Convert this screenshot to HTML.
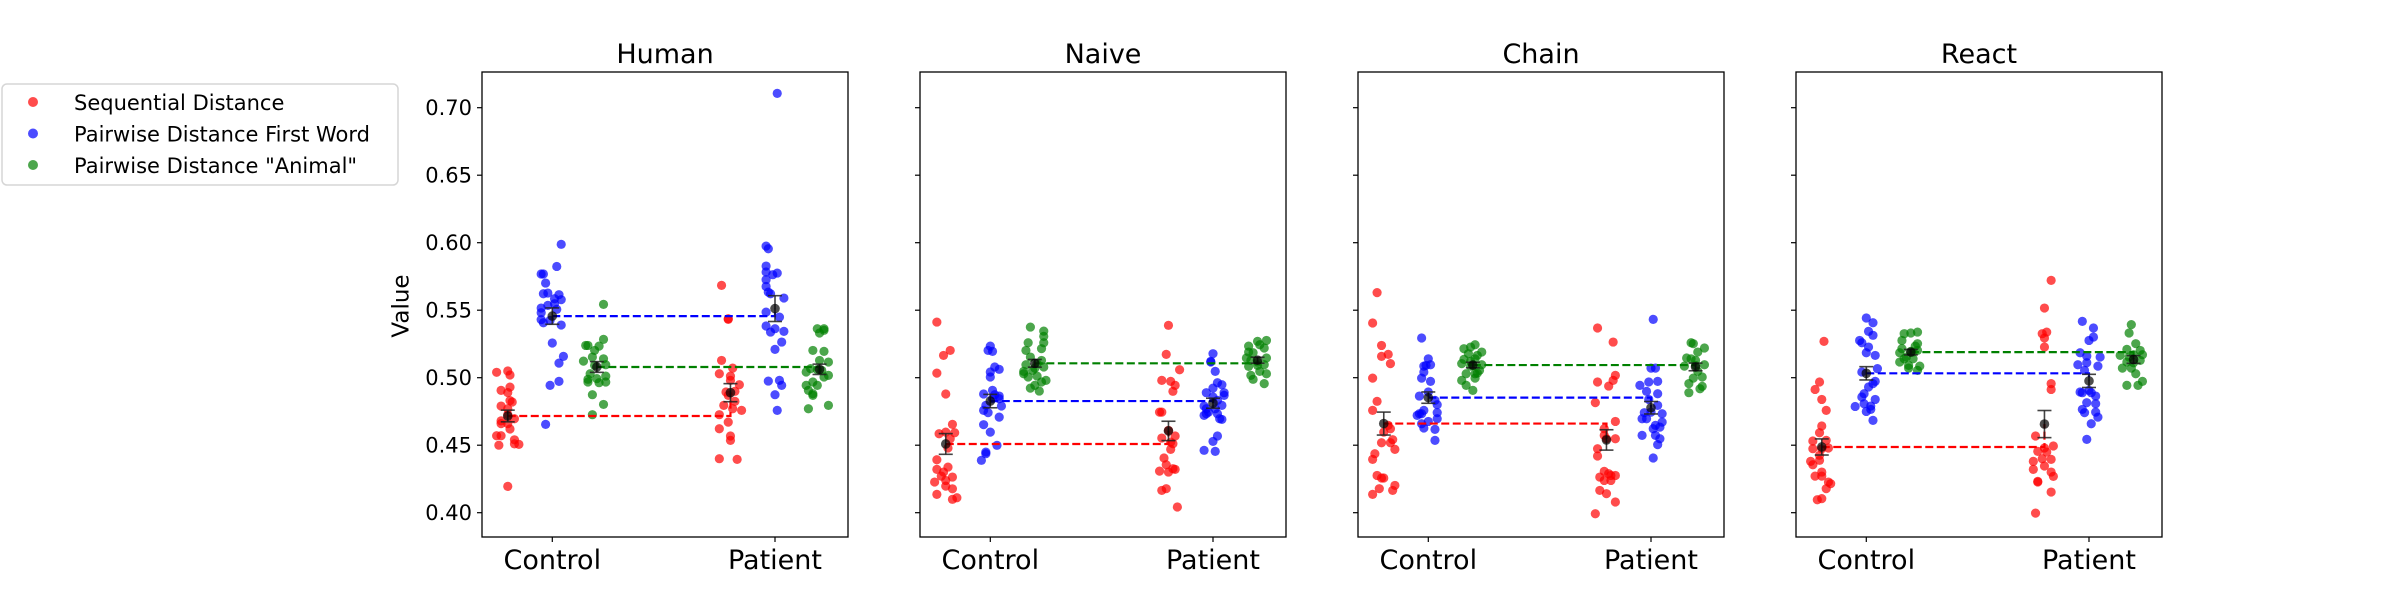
<!DOCTYPE html>
<html><head><meta charset="utf-8">
<style>
html,body{margin:0;padding:0;background:#fff;}
svg{display:block;font-family:"DejaVu Sans","Liberation Sans",sans-serif;}
</style></head>
<body>
<svg id="chart" width="2400" height="600" viewBox="0 0 2400 600" xmlns="http://www.w3.org/2000/svg">
  <g>
    <rect x="2" y="84" width="396" height="101" rx="5" fill="#fff" stroke="#d6d6d6" stroke-width="1.5"/>
    <g>
      <circle cx="33" cy="102" r="5" fill="#ff0000" fill-opacity="0.7"/>
      <text x="74" y="110" font-size="21">Sequential Distance</text>
    </g>
    <g>
      <circle cx="33" cy="133.5" r="5" fill="#0000ff" fill-opacity="0.7"/>
      <text x="74" y="141.5" font-size="21">Pairwise Distance First Word</text>
    </g>
    <g>
      <circle cx="33" cy="165" r="5" fill="#008000" fill-opacity="0.7"/>
      <text x="74" y="173" font-size="21">Pairwise Distance "Animal"</text>
    </g>
  </g>
  <text x="402" y="306" font-size="23" text-anchor="middle" dominant-baseline="middle" transform="rotate(-90 402 306)">Value</text>
  <g id="panels"></g>
</svg>
<script>
// ---- data ----
const panelTitles = ["Human", "Naive", "Chain", "React"];
const categories = ["Control", "Patient"];
const seriesNames = ["sequential", "pairwise-first-word", "pairwise-animal"];
const seriesColors = ["#ff0000", "#0000ff", "#008000"];
const yTicks = [0.40, 0.45, 0.50, 0.55, 0.60, 0.65, 0.70];
const yTickLabels = ["0.40", "0.45", "0.50", "0.55", "0.60", "0.65", "0.70"];

// Human
const humanCtrlSeqVals = [0.504,0.505,0.502,0.4906,0.493,0.489,0.483,0.482,0.479,0.477,0.4726,0.4696,0.468,0.466,0.466,0.462,0.457,0.457,0.454,0.451,0.4506,0.45,0.4195];
const humanCtrlSeqJit = [-.05,0,.01,-.03,.01,0,.01,.02,-.03,0,0,.03,-.03,-.03,0,.01,-.05,-.03,.03,.03,.05,-.04,0];
const humanCtrlFirstVals = [0.5988,0.5824,0.5768,0.5768,0.5701,0.5622,0.5627,0.5615,0.5578,0.5548,0.5516,0.5536,0.5506,0.543,0.5407,0.5425,0.539,0.5257,0.5158,0.5108,0.4943,0.4973,0.4654,0.5585,0.5481];
const humanCtrlFirstJit = [.04,.02,-.05,-.04,-.03,-.04,-.02,.03,.04,.01,-.05,-.02,.02,-.05,-.04,-.01,.04,0,.05,.03,-.01,.03,-.03,.01,-.05];
const humanCtrlAnimalVals = [0.5543,0.5284,0.5239,0.5239,0.5234,0.5202,0.5153,0.514,0.5123,0.5096,0.5091,0.5029,0.5012,0.4988,0.4993,0.4963,0.4968,0.4874,0.4802,0.4726,0.4968];
const humanCtrlAnimalJit = [.03,.03,-.05,-.04,.01,-.01,-.02,.03,-.06,.04,-.01,-.03,.04,-.04,0,.01,.04,-.02,.03,-.02,-.04];
const humanPatSeqVals = [0.5684,0.5437,0.5432,0.5128,0.5071,0.5029,0.5012,0.498,0.4948,0.4894,0.4899,0.4869,0.4795,0.4825,0.4758,0.4726,0.4671,0.4622,0.4568,0.4536,0.44,0.4395,0.477];
const humanPatSeqJit = [-.04,-.01,-.01,-.04,.01,-.05,0,0,.04,-.02,.02,-.01,-.03,.02,.05,-.05,-.01,-.05,0,0,-.05,.03,.01];
const humanPatFirstVals = [0.7106,0.5975,0.5955,0.5827,0.5783,0.5775,0.5763,0.5726,0.5676,0.5634,0.5622,0.559,0.5486,0.5449,0.5383,0.5363,0.5343,0.5338,0.5264,0.521,0.4975,0.498,0.4943,0.4874,0.4758];
const humanPatFirstJit = [.01,-.04,-.03,-.04,-.04,.01,-.01,-.04,-.04,-.03,-.02,.04,-.04,.02,-.04,0,.04,-.02,.03,0,-.03,.02,.03,0,.01];
const humanPatAnimalVals = [0.5363,0.5363,0.5331,0.5351,0.5202,0.5195,0.5128,0.5116,0.5067,0.5059,0.5054,0.5017,0.5005,0.5042,0.4968,0.4943,0.4943,0.4906,0.4869,0.4795,0.477,0.4881];
const humanPatAnimalJit = [-.01,.02,0,.02,-.03,.02,0,.04,-.04,-.01,.01,.04,.02,-.06,-.03,-.01,-.06,-.05,-.03,.04,-.05,-.03];

// Naive
const naiveCtrlSeqVals = [0.5412,0.5202,0.5165,0.5034,0.4879,0.4654,0.4585,0.4597,0.4592,0.4548,0.4479,0.4392,0.4338,0.4321,0.4301,0.4264,0.4271,0.4227,0.4197,0.4177,0.4136,0.4111,0.4099,0.4239];
const naiveCtrlSeqJit = [-.04,.02,-.01,-.04,0,.03,-.03,0,.04,.02,.01,-.04,.01,-.04,-.01,.03,-.02,-.05,0,.03,-.04,.05,.03,0];
const naiveCtrlFirstVals = [0.5234,0.5202,0.5195,0.5079,0.5062,0.5042,0.5005,0.4906,0.4879,0.4864,0.4844,0.479,0.4795,0.4758,0.4741,0.4708,0.4652,0.4597,0.4499,0.4449,0.4437,0.4388,0.4844,0.4874];
const naiveCtrlFirstJit = [0,-.01,.01,.02,.04,0,0,.01,-.03,.04,.04,.05,-.02,-.03,-.01,.04,-.03,0,.03,-.02,-.02,-.04,.01,.02];
const naiveCtrlAnimalVals = [0.5375,0.5345,0.5306,0.5259,0.5259,0.5215,0.5202,0.5153,0.5128,0.5096,0.5104,0.5079,0.5047,0.5054,0.5005,0.5012,0.5029,0.498,0.4968,0.4943,0.4923,0.4901,0.5071];
const naiveCtrlAnimalJit = [-.02,.04,.04,-.03,.04,.03,-.04,-.02,.03,-.04,.01,.04,-.05,-.01,-.03,.01,-.05,.05,.03,0,-.02,.02,0];
const naivePatSeqVals = [0.5388,0.5173,0.5059,0.498,0.4973,0.4943,0.4899,0.4745,0.4745,0.461,0.4568,0.4553,0.4511,0.4469,0.4405,0.4355,0.4321,0.4308,0.4301,0.4326,0.4178,0.4165,0.4042,0.4523];
const naivePatSeqJit = [0,-.01,.05,-.03,.01,.03,.02,-.04,-.03,0,.03,-.03,.02,.01,-.02,-.01,.03,-.04,0,.02,-.01,-.03,.04,.01];
const naivePatFirstVals = [0.5178,0.5121,0.5047,0.4963,0.4923,0.4948,0.4889,0.4889,0.4869,0.4857,0.4832,0.4795,0.479,0.477,0.4745,0.4733,0.4721,0.4733,0.4696,0.4691,0.4568,0.4528,0.4462,0.4454,0.477,0.5116];
const naivePatFirstJit = [0,-.01,.01,.02,0,.04,-.03,.05,.05,0,.02,.04,-.04,.01,-.02,-.03,-.04,.02,.03,.04,.02,0,-.04,.01,-.03,-.01];
const naivePatAnimalVals = [0.5276,0.5234,0.5269,0.5244,0.522,0.519,0.5185,0.5146,0.5146,0.5128,0.5096,0.5091,0.5084,0.5029,0.5047,0.5017,0.4988,0.4956,0.5116];
const naivePatAnimalJit = [.04,-.04,0,.01,.03,-.04,-.02,-.05,.04,-.03,.03,0,-.04,.04,.01,-.03,-.02,.03,0];

// Chain
const chainCtrlSeqVals = [0.563,0.5405,0.5239,0.5173,0.5158,0.5104,0.4997,0.4825,0.4758,0.4647,0.4597,0.4622,0.4518,0.4541,0.4518,0.4469,0.4437,0.4395,0.4276,0.4257,0.4257,0.4202,0.4165,0.4178,0.4136];
const chainCtrlSeqJit = [-.03,-.05,-.01,.02,-.01,.03,-.05,-.03,-.05,.02,0,.03,-.01,.04,.03,.05,-.04,-.05,-.03,-.01,0,.05,.04,-.02,-.05];
const chainCtrlFirstVals = [0.5294,0.514,0.5086,0.5091,0.5096,0.4997,0.4973,0.4864,0.4894,0.4832,0.48,0.4758,0.4741,0.4721,0.4733,0.4696,0.4676,0.4659,0.4627,0.4617,0.4536,0.4733,0.5042];
const chainCtrlFirstJit = [-.03,0,-.02,-.01,.01,-.03,.01,-.04,0,.03,.04,-.02,.04,-.05,-.03,.04,0,-.03,-.02,.03,.03,-.04,-.02];
const chainCtrlAnimalVals = [0.5244,0.5215,0.5227,0.519,0.5104,0.5091,0.5096,0.514,0.5029,0.5029,0.5034,0.498,0.4997,0.4943,0.4906,0.5086,0.5178,0.5054,0.5136,0.5121,0.5165];
const chainCtrlAnimalJit = [.01,-.04,-.01,.04,-.05,0,.04,.01,-.03,.01,.02,-.05,.01,-.03,0,-.01,-.02,.03,-.04,-.01,.02];
const chainPatSeqVals = [0.5368,0.5264,0.5017,0.498,0.4938,0.4968,0.4815,0.4676,0.4622,0.4573,0.4548,0.4474,0.442,0.4306,0.4264,0.4289,0.4276,0.4276,0.4239,0.4239,0.4165,0.4141,0.4079,0.3992,0.4548];
const chainPatSeqJit = [-.04,.03,.04,.03,.01,-.04,-.05,.04,-.01,-.01,.04,-.04,-.04,-.01,-.03,.01,.02,.04,-.01,.02,-.03,0,.04,-.05,0];
const chainPatFirstVals = [0.5432,0.5071,0.5071,0.4968,0.4973,0.4943,0.4899,0.4881,0.4839,0.4795,0.4741,0.4733,0.4696,0.4696,0.4671,0.4647,0.4634,0.4622,0.4573,0.4548,0.4573,0.4504,0.4405,0.4745];
const chainPatFirstJit = [.01,0,.02,-.01,.03,-.05,-.02,.03,-.01,.03,-.03,.05,-.04,-.02,.05,.02,.04,.01,.02,.04,-.04,.03,.01,0];
const chainPatAnimalVals = [0.5259,0.5252,0.522,0.5146,0.519,0.514,0.5096,0.5086,0.5091,0.5047,0.5005,0.4997,0.4956,0.4936,0.4918,0.4889,0.5128];
const chainPatAnimalJit = [-.02,-.01,.04,-.04,.01,-.02,.04,-.05,0,.01,.03,-.01,-.03,.03,.02,-.03,0];

// React
const reactCtrlSeqVals = [0.5269,0.4968,0.4913,0.4839,0.4758,0.4642,0.4592,0.4531,0.4536,0.4474,0.4474,0.4479,0.4425,0.438,0.4388,0.4355,0.4301,0.4271,0.4227,0.4215,0.4178,0.4096,0.4104,0.4271];
const reactCtrlSeqJit = [.01,-.01,-.03,0,.02,0,-.01,-.04,.02,-.04,0,.03,-.01,-.05,-.01,-.04,0,-.03,.03,.04,.02,-.02,0,0];
const reactCtrlFirstVals = [0.5442,0.5407,0.5343,0.5314,0.5276,0.5259,0.5185,0.5165,0.5067,0.5042,0.4973,0.4931,0.4956,0.4881,0.4857,0.4839,0.4787,0.4807,0.479,0.475,0.4684,0.4765,0.5227];
const reactCtrlFirstJit = [0,.03,.01,.03,-.03,-.02,0,.04,.05,-.02,.04,.01,.03,-.01,-.02,.04,-.05,-.01,.02,0,.03,.02,.01];
const reactCtrlAnimalVals = [0.5326,0.5331,0.5338,0.5276,0.5252,0.5185,0.5195,0.5202,0.514,0.514,0.5116,0.5091,0.5086,0.5071,0.5054,0.519,0.5153,0.5234,0.5215];
const reactCtrlAnimalJit = [-.03,0,.03,-.04,.03,-.05,0,.03,-.03,.01,-.05,-.01,.04,-.01,.03,.01,-.02,.02,-.04];
const reactPatSeqVals = [0.5721,0.5516,0.5338,0.5326,0.5294,0.5227,0.4956,0.4913,0.4568,0.4494,0.4479,0.4454,0.438,0.44,0.4395,0.4346,0.4321,0.4301,0.4269,0.4227,0.4232,0.4153,0.3997,0.4449];
const reactPatSeqJit = [.03,0,.01,-.01,0,0,.03,.03,-.04,.04,0,-.03,-.05,-.01,.03,0,-.05,.03,.04,-.03,-.03,.03,-.04,.01];
const reactPatFirstVals = [0.5417,0.5368,0.5301,0.5276,0.5185,0.5153,0.516,0.5096,0.5111,0.5086,0.5054,0.4894,0.4906,0.4889,0.4864,0.4815,0.4807,0.4765,0.4741,0.4745,0.4708,0.4659,0.4543,0.4889];
const reactPatFirstJit = [-.03,.02,.02,0,-.04,.05,-.01,-.05,-.01,.04,-.02,-.04,0,-.03,.03,-.01,.03,-.03,-.02,.03,.04,.01,-.01,.01];
const reactPatAnimalVals = [0.5393,0.5331,0.5252,0.521,0.5202,0.5165,0.517,0.517,0.5116,0.5111,0.5128,0.5071,0.5071,0.5029,0.4943,0.4973,0.4943,0.5153];
const reactPatAnimalJit = [-.01,-.02,.01,-.03,.03,-.06,0,.04,-.03,0,.03,-.05,-.01,.01,-.03,.04,.02,-.02];

const panelData = [
  [[humanCtrlSeqVals,humanCtrlSeqJit,humanPatSeqVals,humanPatSeqJit],[humanCtrlFirstVals,humanCtrlFirstJit,humanPatFirstVals,humanPatFirstJit],[humanCtrlAnimalVals,humanCtrlAnimalJit,humanPatAnimalVals,humanPatAnimalJit]],
  [[naiveCtrlSeqVals,naiveCtrlSeqJit,naivePatSeqVals,naivePatSeqJit],[naiveCtrlFirstVals,naiveCtrlFirstJit,naivePatFirstVals,naivePatFirstJit],[naiveCtrlAnimalVals,naiveCtrlAnimalJit,naivePatAnimalVals,naivePatAnimalJit]],
  [[chainCtrlSeqVals,chainCtrlSeqJit,chainPatSeqVals,chainPatSeqJit],[chainCtrlFirstVals,chainCtrlFirstJit,chainPatFirstVals,chainPatFirstJit],[chainCtrlAnimalVals,chainCtrlAnimalJit,chainPatAnimalVals,chainPatAnimalJit]],
  [[reactCtrlSeqVals,reactCtrlSeqJit,reactPatSeqVals,reactPatSeqJit],[reactCtrlFirstVals,reactCtrlFirstJit,reactPatFirstVals,reactPatFirstJit],[reactCtrlAnimalVals,reactCtrlAnimalJit,reactPatAnimalVals,reactPatAnimalJit]]
];
const seriesOffsets = [-0.2, 0, 0.2];

// ---- layout ----
const NS = "http://www.w3.org/2000/svg";
const panelLefts = [482, 920, 1358, 1796];
const panelW = 366, panelTop = 72, panelBottom = 537;
function yScale(v){ return 512.7 - (v - 0.4) * 1350; }
function xScale(left, x){ return left + 70.3 + x * 222.7; }
function mk(tag, attrs, parent){
  const e = document.createElementNS(NS, tag);
  for (const k in attrs) e.setAttribute(k, attrs[k]);
  parent.appendChild(e);
  return e;
}
function mean(a){ return a.reduce((s,v)=>s+v,0)/a.length; }
function sem(a){ const m=mean(a); const sd=Math.sqrt(a.reduce((s,v)=>s+(v-m)*(v-m),0)/(a.length-1)); return sd/Math.sqrt(a.length); }

const root = document.getElementById("panels");
panelTitles.forEach((title, pi) => {
  const left = panelLefts[pi];
  const g = mk("g", {}, root);
  
  

  const t = mk("text", {x: left + panelW/2, y: 63, "font-size": 27, "text-anchor": "middle"}, g);
  t.textContent = title;
  
  

  yTicks.forEach((v, i) => {
    const y = yScale(v);
    const tk = mk("line", {x1: left - 5, x2: left, y1: y, y2: y, stroke: "#000", "stroke-width": 1.2}, g);
    
    
    if (pi === 0) {
      const lb = mk("text", {x: left - 10, y: y + 7.5, "font-size": 21, "text-anchor": "end"}, g);
      lb.textContent = yTickLabels[i];
      
      
    }
  });
  categories.forEach((c, ci) => {
    const x = xScale(left, ci);
    const tk = mk("line", {x1: x, x2: x, y1: panelBottom, y2: panelBottom + 5, stroke: "#000", "stroke-width": 1.2}, g);
    
    
    const lb = mk("text", {x: x, y: 569, "font-size": 27, "text-anchor": "middle"}, g);
    lb.textContent = c;
    
    
  });

  const series = panelData[pi];
  series.forEach((s, si) => {
    const sg = mk("g", {}, g);
    
    
    [0, 1].forEach(ci => {
      const vals = s[ci*2], jit = s[ci*2+1];
      vals.forEach((v, k) => {
        const cx = xScale(left, ci + seriesOffsets[si] + (jit[k] || 0));
        const pt = mk("circle", {cx: cx, cy: yScale(v), r: 4.6, fill: seriesColors[si], "fill-opacity": 0.7}, sg);
        
        
      });
    });
  });
  series.forEach((s, si) => {
    const m0 = mean(s[0]), m1 = mean(s[2]);
    const x0 = xScale(left, 0 + seriesOffsets[si]), x1 = xScale(left, 1 + seriesOffsets[si]);
    const pl = mk("polyline", {points: `${x0},${yScale(m0)} ${x1},${yScale(m0)} ${x1},${yScale(m1)}`, fill: "none", stroke: seriesColors[si], "stroke-width": 2.2, "stroke-dasharray": "8,3.5"}, g);
    
    
  });
  series.forEach((s, si) => {
    [0, 1].forEach(ci => {
      const vals = s[ci*2];
      const m = mean(vals), e = sem(vals);
      const x = xScale(left, ci + seriesOffsets[si]);
      const eg = mk("g", {stroke: "#222", "stroke-width": 1.6, "stroke-opacity": 0.85}, g);
      
      
      mk("line", {x1: x, x2: x, y1: yScale(m - e), y2: yScale(m + e)}, eg);
      mk("line", {x1: x - 7, x2: x + 7, y1: yScale(m - e), y2: yScale(m - e)}, eg);
      mk("line", {x1: x - 7, x2: x + 7, y1: yScale(m + e), y2: yScale(m + e)}, eg);
      const mc = mk("circle", {cx: x, cy: yScale(m), r: 4.8, fill: "#000", "fill-opacity": 0.7}, g);
      
      
    });
  });

  const fr = mk("rect", {x: left, y: panelTop, width: panelW, height: panelBottom - panelTop, fill: "none", stroke: "#000", "stroke-width": 1.3}, g);
  
  
});
</script>
</body></html>
